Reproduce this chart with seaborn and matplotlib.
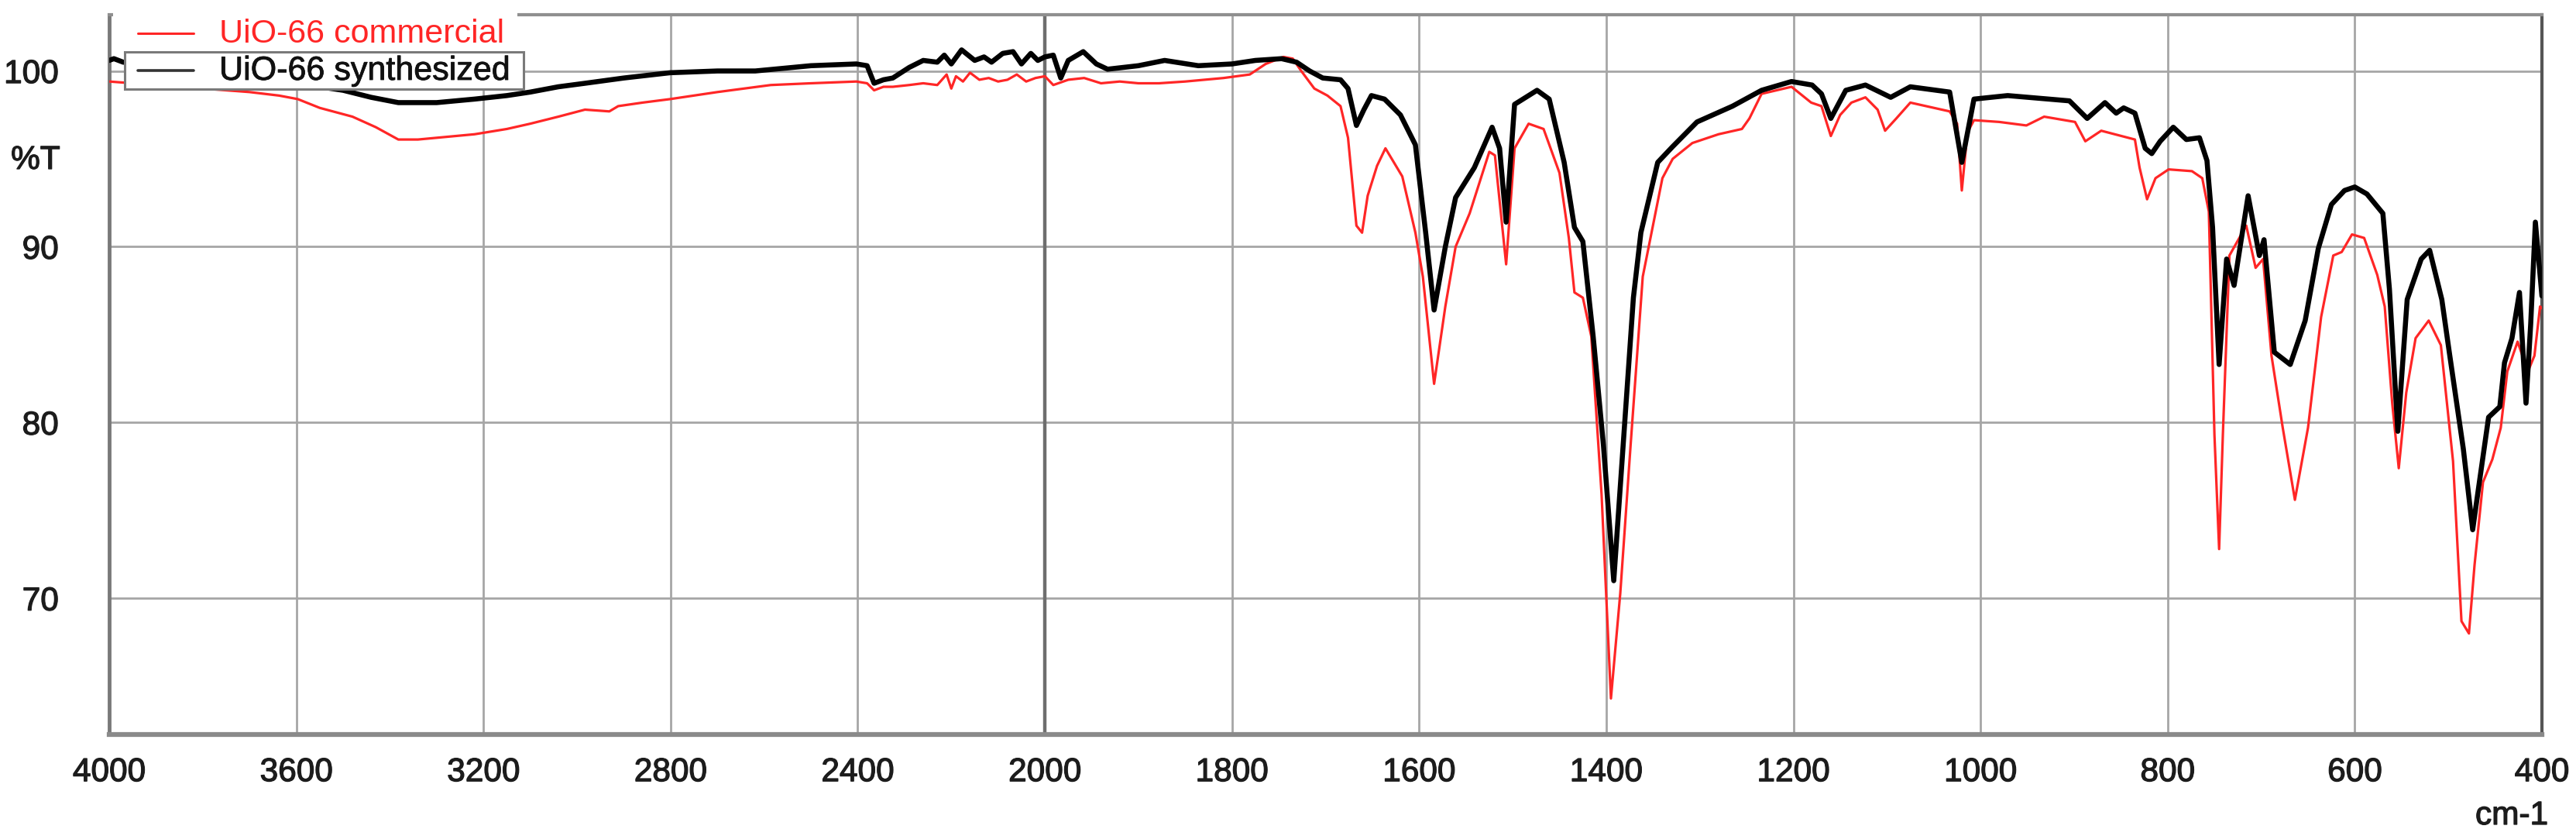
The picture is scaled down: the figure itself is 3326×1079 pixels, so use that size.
import numpy as np
import matplotlib
matplotlib.use('Agg')
import matplotlib.pyplot as plt
import matplotlib.patheffects as pe
import seaborn as sns
from matplotlib.ticker import FixedLocator
from matplotlib.patches import Rectangle
from matplotlib.lines import Line2D

# ─────────────────────────────────────────────
# DATA
# ─────────────────────────────────────────────
wn_comm = [4000, 3950, 3900, 3850, 3800, 3750, 3700, 3637, 3597, 3550, 3480, 3430, 3382, 3340,
           3300, 3219, 3150, 3100, 3040, 2983, 2931, 2912, 2860, 2801, 2700, 2586, 2500, 2403,
           2380, 2365, 2345, 2325, 2290, 2260, 2230, 2210, 2200, 2190, 2175, 2160, 2140, 2120,
           2100, 2080, 2060, 2040, 2020, 2000, 1991, 1975, 1958, 1940, 1920, 1900, 1878, 1850,
           1809, 1781, 1764, 1745, 1735, 1726, 1712, 1698, 1684, 1676, 1667, 1661, 1655, 1645,
           1636, 1618, 1604, 1596, 1584, 1572, 1561, 1546, 1525, 1519, 1507, 1498, 1483, 1467,
           1450, 1440, 1434, 1425, 1416, 1405, 1395, 1385, 1374, 1361, 1340, 1329, 1308, 1280,
           1255, 1247, 1234, 1202, 1181, 1170, 1160, 1150, 1138, 1123, 1110, 1102, 1090, 1075,
           1050, 1033, 1025, 1020, 1014, 1007, 980, 951, 932, 899, 888, 871, 835, 830, 822, 813,
           799, 774, 763, 756, 750, 745, 741, 734, 716, 706, 698, 689, 677, 664, 650, 636, 623,
           614, 603, 590, 576, 568, 560, 553, 545, 535, 521, 508, 495, 486, 478, 472, 463, 453,
           444, 437, 426, 415, 408, 402, 400]
t_comm = [99.4, 99.3, 99.2, 99.0, 99.0, 98.9, 98.8, 98.6, 98.4, 97.9, 97.4, 96.8, 96.1, 96.1,
          96.2, 96.4, 96.7, 97.0, 97.4, 97.8, 97.7, 98.0, 98.2, 98.4, 98.8, 99.2, 99.3, 99.4,
          99.3, 98.9, 99.1, 99.1, 99.2, 99.3, 99.2, 99.8, 99.0, 99.7, 99.4, 99.9, 99.5, 99.6,
          99.4, 99.5, 99.8, 99.4, 99.6, 99.7, 99.2, 99.5, 99.6, 99.3, 99.4, 99.3, 99.3, 99.4,
          99.6, 99.8, 100.4, 100.8, 100.7, 100.0, 99.0, 98.6, 98.0, 96.2, 91.2, 90.8, 92.9, 94.6,
          95.6, 94.0, 90.8, 88.3, 82.2, 86.6, 90.0, 91.9, 95.4, 95.2, 89.0, 95.6, 97.0, 96.7,
          94.2, 90.5, 87.4, 87.1, 84.9, 75.9, 64.3, 70.3, 78.7, 88.3, 93.9, 95.0, 95.9, 96.4,
          96.7, 97.3, 98.7, 99.1, 98.2, 98.0, 96.3, 97.5, 98.2, 98.5, 97.8, 96.6, 97.3, 98.2,
          97.9, 97.7, 97.0, 93.2, 96.5, 97.2, 97.1, 96.9, 97.4, 97.1, 96.0, 96.6, 96.1, 94.5, 92.7, 93.9,
          94.4, 94.3, 93.9, 92.0, 79.3, 72.8, 79.3, 89.5, 91.2, 88.8, 89.3, 83.8, 79.7, 75.6, 79.7, 86.0, 89.5,
          89.7, 90.7, 90.5, 88.4, 86.6, 81.1, 77.4, 81.7, 84.8, 85.8, 84.4, 77.8, 68.7, 68.0, 71.9, 76.6, 77.9,
          79.7, 82.9, 84.6, 82.9, 83.8, 86.6, 86.5]

wn_syn = [4000, 3990, 3970, 3900, 3800, 3700, 3600, 3500, 3440, 3382, 3300, 3219, 3150, 3100,
          3040, 2983, 2900, 2801, 2700, 2619, 2500, 2403, 2380, 2365, 2345, 2325, 2290, 2260,
          2230, 2215, 2200, 2178, 2150, 2130, 2114, 2090, 2068, 2050, 2030, 2015, 2000, 1991,
          1983, 1975, 1959, 1945, 1933, 1900, 1872, 1836, 1800, 1775, 1747, 1731, 1717, 1703,
          1684, 1676, 1667, 1659, 1651, 1637, 1620, 1604, 1593, 1584, 1572, 1561, 1541, 1522,
          1514, 1507, 1498, 1474, 1461, 1445, 1434, 1425, 1414, 1403, 1392, 1382, 1371, 1363,
          1345, 1329, 1303, 1265, 1234, 1202, 1180, 1170, 1160, 1144, 1123, 1096, 1075, 1033,
          1020, 1007, 971, 905, 886, 867, 855, 847, 835, 824, 817, 808, 794, 780, 766, 758, 752,
          745, 737, 729, 714, 702, 697, 686, 669, 653, 639, 625, 611, 600, 587, 570, 563, 554,
          544, 529, 520, 507, 499, 484, 474, 469, 457, 445, 440, 432, 424, 417, 412, 407, 400]
t_syn = [100.6, 100.7, 100.5, 100.4, 100.1, 99.7, 99.3, 98.9, 98.5, 98.2, 98.2, 98.4, 98.6, 98.8,
         99.1, 99.3, 99.6, 99.9, 100.0, 100.0, 100.3, 100.4, 100.3, 99.3, 99.5, 99.6, 100.2, 100.6,
         100.5, 100.9, 100.4, 101.2, 100.6, 100.8, 100.5, 101.0, 101.1, 100.4, 101.0, 100.6, 100.8, 100.9,
         99.6, 100.6, 101.1, 100.4, 100.1, 100.3, 100.6, 100.3, 100.4, 100.6, 100.7, 100.5, 100.0, 99.6,
         99.5, 99.0, 96.9, 97.8, 98.6, 98.4, 97.5, 95.8, 90.8, 86.4, 90.0, 92.8, 94.5, 96.8,
         95.6, 91.4, 98.1, 98.9, 98.4, 94.8, 91.1, 90.3, 84.9, 78.7, 71.0, 78.7, 87.1, 90.8,
         94.8, 95.7, 97.1, 98.0, 98.9, 99.4, 99.2, 98.7, 97.3, 98.9, 99.2, 98.5, 99.1, 98.8,
         94.8, 98.4, 98.6, 98.3, 97.3, 98.2, 97.6, 97.9, 97.6, 95.6, 95.3, 96.0, 96.8, 96.1, 96.2, 94.9, 91.1,
         83.3, 89.3, 87.8, 92.9, 89.5, 90.4, 84.0, 83.3, 85.8, 89.9, 92.4, 93.2, 93.4, 93.0, 91.9, 87.6, 79.5,
         87.0, 89.3, 89.8, 87.0, 84.0, 78.5, 73.9, 75.8, 80.3, 80.9, 83.4, 84.8, 87.4, 81.1, 85.6, 91.4, 87.2]

x_major = [4000, 3600, 3200, 2800, 2400, 2000, 1800, 1600, 1400, 1200, 1000, 800, 600, 400]
y_major = [70, 80, 90, 100]

# ─────────────────────────────────────────────
# STYLE
# ─────────────────────────────────────────────
sns.set_style('white')
plt.rcParams['font.family'] = ['Liberation Sans', 'DejaVu Sans']

W, H = 3326, 1079
def fx(px):
    return px / W
def fy(py):
    return 1 - py / H

RED = '#ff2626'
FS = 30.5
FS_LEG = 31
TXT = '#1c1c1c'
thick = [pe.withStroke(linewidth=0.9, foreground=TXT)]

fig = plt.figure(figsize=(W / 100, H / 100), dpi=100)
ax = fig.add_axes([fx(141), fy(948), fx(3282) - fx(141), fy(19) - fy(948)])

# 2:1 compressed scale above 2000 cm-1
def fwd(x):
    x = np.asarray(x, dtype=float)
    return np.where(x > 2000, 2000 + (x - 2000) / 2.0, x)
def inv(p):
    p = np.asarray(p, dtype=float)
    return np.where(p > 2000, 2000 + (p - 2000) * 2.0, p)
ax.set_xscale('function', functions=(fwd, inv))

sns.lineplot(x=wn_comm, y=t_comm, ax=ax, color=RED, linewidth=2.3,
             estimator=None, sort=False, legend=False, zorder=3)
sns.lineplot(x=wn_syn, y=t_syn, ax=ax, color='black', linewidth=4.7,
             estimator=None, sort=False, legend=False, zorder=4)

ax.set_xlim(4000, 400)
ax.set_ylim(62.25, 103.2)

ax.xaxis.set_major_locator(FixedLocator(x_major))
x_minor = [v for v in range(4000, 2000, -80)] + [v for v in range(2000, 399, -40)]
x_minor = [v for v in x_minor if v not in x_major]
ax.xaxis.set_minor_locator(FixedLocator(x_minor))
ax.yaxis.set_major_locator(FixedLocator(y_major))
ax.yaxis.set_minor_locator(FixedLocator([v for v in range(64, 104, 2) if v not in y_major]))
ax.set_xticklabels([str(v) for v in x_major])
ax.set_yticklabels([str(v) for v in y_major])

ax.tick_params(axis='x', which='major', direction='out', length=16, width=1.6,
               color='#555555', pad=5, labelsize=FS, labelcolor=TXT)
ax.tick_params(axis='x', which='minor', direction='out', length=10, width=1.6, color='#555555')
ax.tick_params(axis='y', which='major', direction='out', length=40, width=2.2,
               color='#555555', pad=7, labelsize=FS, labelcolor=TXT)
ax.tick_params(axis='y', which='minor', direction='out', length=20, width=2.2, color='#555555')
for lab in ax.get_xticklabels() + ax.get_yticklabels():
    lab.set_path_effects(thick)

ax.grid(True, which='major', color='#a6a6a6', linewidth=2)
ax.set_axisbelow(True)
ax.axvline(2000, color='#6e6e6e', linewidth=3.2, zorder=1)

for side, col, lw in [('left', '#7a7a7a', 3.5), ('bottom', '#8a8a8a', 4.5),
                      ('top', '#8f8f8f', 3.0), ('right', '#555555', 3.0)]:
    ax.spines[side].set_color(col)
    ax.spines[side].set_linewidth(lw)
    ax.spines[side].set_visible(True)

ax.set_xlabel('')
ax.set_ylabel('')
fig.text(fx(46), fy(207), '%T', ha='center', va='center', fontsize=FS, color=TXT,
         path_effects=thick)
fig.text(fx(3290), fy(1053), 'cm-1', ha='right', va='center', fontsize=FS, color=TXT,
         path_effects=thick)

# ─────────────────────────────────────────────
# LEGEND (two stacked entries as in the original software export)
# ─────────────────────────────────────────────
fig.add_artist(Rectangle((fx(146), fy(67)), fx(668) - fx(146), fy(6) - fy(67),
                         transform=fig.transFigure, facecolor='white', edgecolor='none', zorder=5))
fig.add_artist(Line2D([fx(178), fx(250)], [fy(43), fy(43)], transform=fig.transFigure,
                      color=RED, linewidth=2.2, zorder=6))
fig.text(fx(283), fy(44), 'UiO-66 commercial', ha='left', va='center',
         fontsize=FS_LEG, color=RED, zorder=6)
fig.add_artist(Rectangle((fx(161), fy(115)), fx(676) - fx(161), fy(67) - fy(115),
                         transform=fig.transFigure, facecolor='white', edgecolor='#7a7a7a',
                         linewidth=2.2, zorder=5))
fig.add_artist(Line2D([fx(178), fx(250)], [fy(91), fy(91)], transform=fig.transFigure,
                      color='#333333', linewidth=2.6, zorder=6))
fig.text(fx(283), fy(92), 'UiO-66 synthesized', ha='left', va='center',
         fontsize=FS_LEG, color='#111111', zorder=6, path_effects=[pe.withStroke(linewidth=0.6, foreground='#111111')])

plt.savefig('out.png', dpi=100)
plt.close()
print("Saved: out.png")
